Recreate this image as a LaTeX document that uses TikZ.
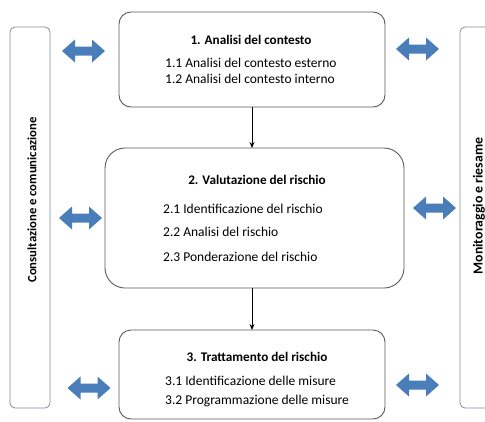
\documentclass[tikz,border=0pt]{standalone}
\usepackage{fontspec}
\setmainfont{Carlito}
\usetikzlibrary{arrows.meta}
\definecolor{arrblue}{RGB}{74,126,187}
\definecolor{boxline}{RGB}{90,90,90}
\definecolor{barline}{RGB}{130,140,155}
\tikzset{
  phase/.style={draw=boxline, line width=0.9pt, fill=white},
  sidebar/.style={draw=barline, line width=0.8pt, fill=white, rounded corners=5pt},
  title/.style={font=\bfseries\fontsize{13.2}{15}\selectfont, inner sep=0pt},
  item/.style={font=\fontsize{13.5}{15}\selectfont, anchor=west, inner sep=0pt},
  vlabel/.style={font=\bfseries\fontsize{12.7}{14}\selectfont, rotate=90, inner sep=0pt},
  vlabelr/.style={font=\bfseries\fontsize{13.8}{15}\selectfont, rotate=90, inner sep=0pt},
  flow/.style={-{Stealth[length=6pt,width=5pt]}, line width=0.9pt, black},
  dbl/.style={fill=arrblue, draw=none}
}
\newcommand{\dblarrow}[2]{% center x, center y
  \fill[dbl] (#1-21.5,#2) -- (#1-8.5,#2-11.5) -- (#1-8.5,#2-4.5) -- (#1+8.5,#2-4.5) -- (#1+8.5,#2-11.5)
   -- (#1+21.5,#2) -- (#1+8.5,#2+11.5) -- (#1+8.5,#2+4.5) -- (#1-8.5,#2+4.5) -- (#1-8.5,#2+11.5) -- cycle;}
\begin{document}
\begin{tikzpicture}[x=1pt,y=-1pt]
\useasboundingbox (0,0) rectangle (485,421);
\clip (0,0) rectangle (485,421);
% side bars
\draw[sidebar] (10,27) rectangle (50,408);
\node[vlabel] (cons) at (32,200) {Consultazione e comunicazione};
\draw[sidebar] (460,27) rectangle (510,408);
\node[vlabelr] (mon) at (479,206) {Monitoraggio e riesame};
% phase boxes
\draw[phase, rounded corners=12pt] (119,12) rectangle (385,107);
\coordinate (b1top) at (252,12);
\coordinate (b1bot) at (252,107);
\node[title] (t1) at (251,40) {1. Analisi del contesto};
\node[item] (i11) at (165,63) {1.1 Analisi del contesto esterno};
\node[item] (i12) at (165,79) {1.2 Analisi del contesto interno};

\draw[phase, rounded corners=20pt] (105,148) rectangle (404,288);
\coordinate (b2top) at (252,148);
\coordinate (b2bot) at (252,288);
\node[title] (t2) at (257,180) {2. Valutazione del rischio};
\node[item] (i21) at (163,209) {2.1 Identificazione del rischio};
\node[item] (i22) at (163,232) {2.2 Analisi del rischio};
\node[item] (i23) at (163,257) {2.3 Ponderazione del rischio};

\draw[phase, rounded corners=12pt] (119,330) rectangle (385,419);
\coordinate (b3top) at (252,330);
\node[title] (t3) at (257,357) {3. Trattamento del rischio};
\node[item] (i31) at (165,381) {3.1 Identificazione delle misure};
\node[item] (i32) at (165,401) {3.2 Programmazione delle misure};

% flow arrows
\draw[flow] (b1bot) -- (b2top);
\draw[flow] (b2bot) -- (b3top);

% double arrows
\dblarrow{83.5}{51}
\dblarrow{417.5}{49}
\dblarrow{80.5}{218}
\dblarrow{434.5}{208}
\dblarrow{89}{388}
\dblarrow{417.5}{385}
\end{tikzpicture}
\end{document}
